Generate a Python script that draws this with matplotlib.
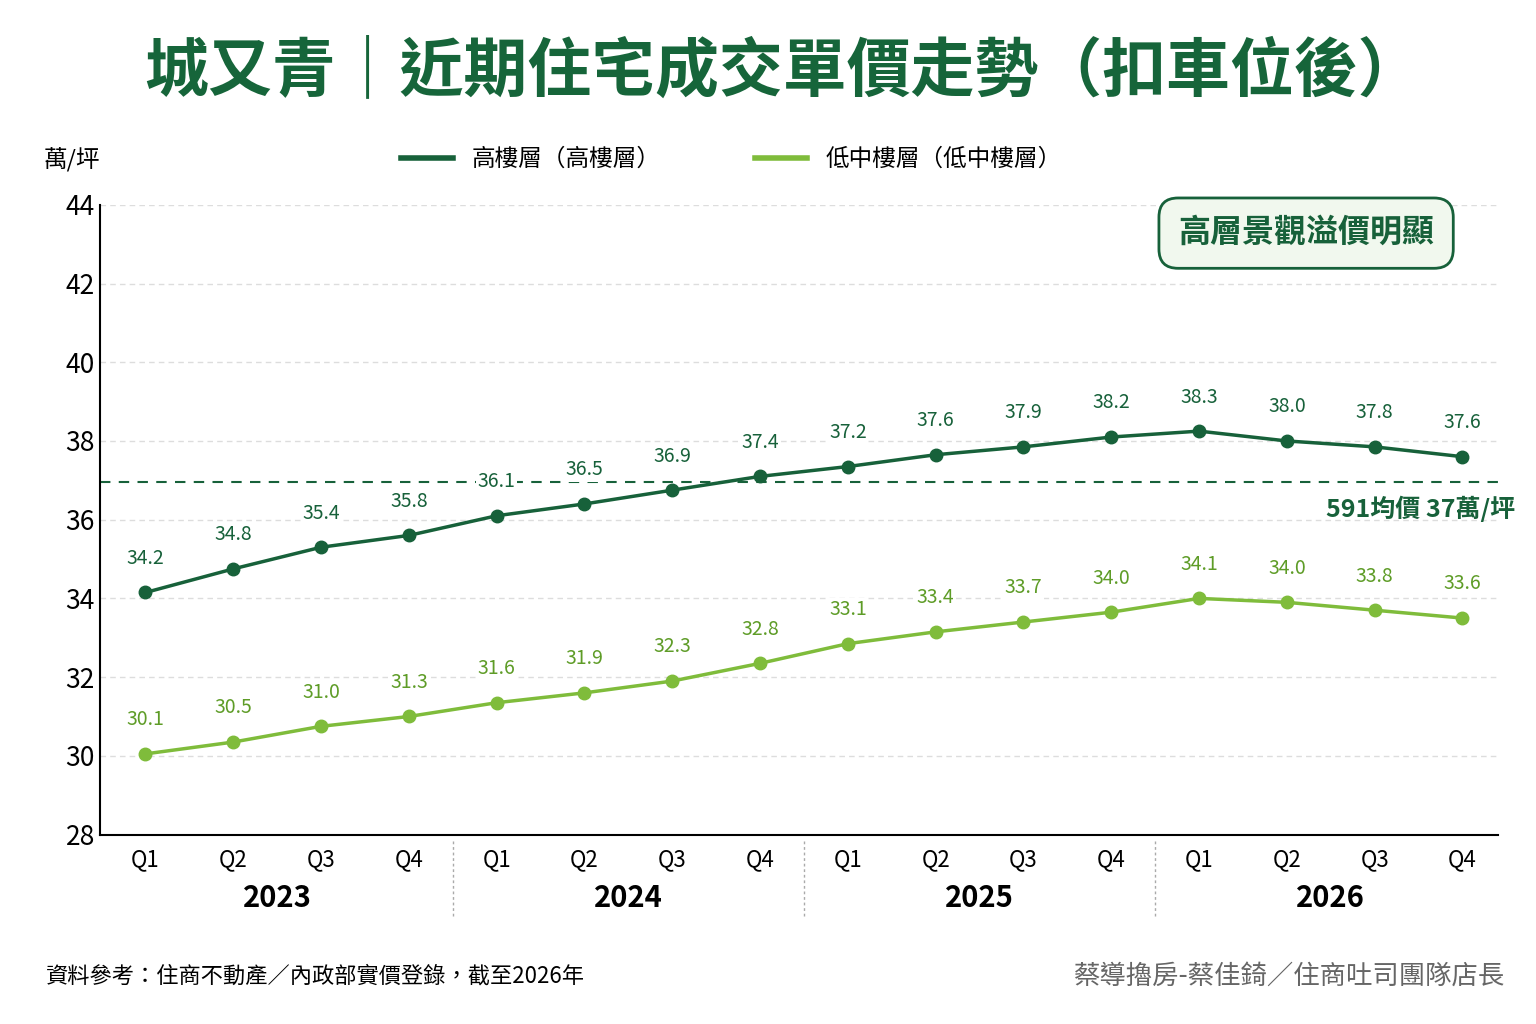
import matplotlib.pyplot as plt
from matplotlib.lines import Line2D
import numpy as np

plt.rcParams['font.family'] = ['Noto Sans CJK TC', 'DejaVu Sans']

quarters = ['Q1', 'Q2', 'Q3', 'Q4'] * 4
years = ['2023', '2024', '2025', '2026']
high = [34.2, 34.8, 35.4, 35.8, 36.1, 36.5, 36.9, 37.4, 37.2, 37.6, 37.9, 38.2, 38.3, 38.0, 37.8, 37.6]
low = [30.1, 30.5, 31.0, 31.3, 31.6, 31.9, 32.3, 32.8, 33.1, 33.4, 33.7, 34.0, 34.1, 34.0, 33.8, 33.6]
# plotted positions (slightly below the labels in the picture)
high_pos = [34.15, 34.75, 35.3, 35.6, 36.1, 36.4, 36.75, 37.1, 37.35, 37.65, 37.85, 38.1, 38.25, 38.0, 37.85, 37.6]
low_pos = [30.05, 30.35, 30.75, 31.0, 31.35, 31.6, 31.9, 32.35, 32.85, 33.15, 33.4, 33.65, 34.0, 33.9, 33.7, 33.5]
avg = 36.95

dark = '#17613a'
light = '#7fbc3b'

fig = plt.figure(figsize=(15.36, 10.24), dpi=100)
ax = fig.add_axes([0.065, 0.185, 0.91, 0.615])
x = np.arange(16)

ax.plot(x, high_pos, color=dark, lw=2.5, marker='o', ms=9, zorder=3)
ax.plot(x, low_pos, color=light, lw=2.5, marker='o', ms=9, zorder=3)
for xi, v, p in zip(x, high, high_pos):
    ax.text(xi, p + 0.6, f'{v:.1f}', ha='center', va='bottom', fontsize=14, color=dark,
            fontweight='medium', bbox=dict(fc='white', ec='none', pad=1))
for xi, v, p in zip(x, low, low_pos):
    ax.text(xi, p + 0.6, f'{v:.1f}', ha='center', va='bottom', fontsize=14, color='#5e9c27',
            fontweight='medium', bbox=dict(fc='white', ec='none', pad=1))

ax.axhline(avg, color=dark, ls=(0, (5, 4)), lw=1.5, zorder=1)
ax.text(15.6, avg - 0.35, '591均價 37萬/坪', ha='right', va='top', fontsize=18,
        fontweight='bold', color=dark)

ax.set_xlim(-0.52, 15.4)
ax.set_ylim(28, 44)
ax.set_yticks(range(28, 45, 2))
ax.tick_params(axis='y', labelsize=19, length=0)
ax.set_xticks(x, quarters)
ax.tick_params(axis='x', labelsize=16, length=0, pad=10)
ax.grid(axis='y', color='#dddddd', ls=(0, (4, 3)), lw=1)
for s in ['top', 'right']:
    ax.spines[s].set_visible(False)
ax.spines['left'].set_linewidth(1.5)
ax.spines['bottom'].set_linewidth(1.5)

for i, yr in enumerate(years):
    ax.text(i * 4 + 1.5, -0.10, yr, transform=ax.get_xaxis_transform(), ha='center',
            va='center', fontsize=21, fontweight='bold')
    if i > 0:
        ax.plot([i * 4 - 0.5] * 2, [-0.01, -0.13], transform=ax.get_xaxis_transform(),
                color='#aaaaaa', ls=(0, (2, 2)), lw=1, clip_on=False)

ax.text(-0.04, 1.07, '萬/坪', transform=ax.transAxes, fontsize=17, ha='left', va='center')
handles = [Line2D([], [], color=dark, lw=4), Line2D([], [], color=light, lw=4)]
ax.legend(handles, ['高樓層（高樓層）', '低中樓層（低中樓層）'], loc='lower left',
          bbox_to_anchor=(0.2, 1.02), ncols=2, frameon=False,
          fontsize=17, handlelength=2.2, columnspacing=4)
ax.text(0.863, 0.955, '高層景觀溢價明顯', transform=ax.transAxes, ha='center', va='center',
        fontsize=23, fontweight='bold', color=dark,
        bbox=dict(boxstyle='round,pad=0.6', fc='#f1f8ee', ec=dark, lw=2))

fig.text(0.51, 0.93, '城又青｜近期住宅成交單價走勢（扣車位後）', ha='center', va='center',
         fontsize=46, fontweight='bold', color='#16653a')
fig.text(0.03, 0.047, '資料參考：住商不動產／內政部實價登錄，截至2026年', fontsize=16, va='center')
fig.text(0.98, 0.047, '蔡導擼房-蔡佳錡／住商吐司團隊店長', fontsize=19, va='center',
         ha='right', color='#666666')

fig.savefig('out.png', dpi=100)
